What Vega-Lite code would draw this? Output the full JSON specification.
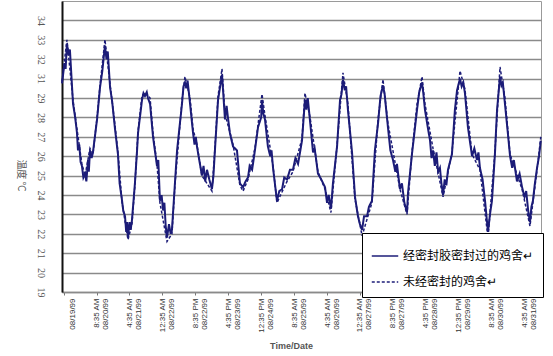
{
  "$schema": "https://vega.github.io/schema/vega-lite/v6.json",
  "width": 479,
  "height": 291,
  "autosize": "none",
  "padding": {"left": 62, "top": 1, "right": 12, "bottom": 64},
  "background": "white",
  "config": {"view": {"stroke": "#9a9a9a", "strokeWidth": 1}},
  "datasets": {
    "sealed": [
      {"t":-1.0,"T":30.5},{"t":0.5,"T":31.8},{"t":1.2,"T":31.5},{"t":2.0,"T":32.8},{"t":3.0,"T":32.2},{"t":3.8,"T":32.5},{"t":5.7,"T":28.7},{"t":7.0,"T":28.0},{"t":8.1,"T":27.2},{"t":8.7,"T":26.3},{"t":9.5,"T":26.6},{"t":10.3,"T":25.7},{"t":11.1,"T":25.5},{"t":12.0,"T":24.9},{"t":13.0,"T":25.1},{"t":13.8,"T":24.7},{"t":14.8,"T":25.8},{"t":15.3,"T":25.2},{"t":16.0,"T":26.3},{"t":17.0,"T":25.9},{"t":17.8,"T":26.2},{"t":20.3,"T":27.9},{"t":22.1,"T":30.1},{"t":23.5,"T":31.4},{"t":25.1,"T":32.7},{"t":26.0,"T":32.0},{"t":26.8,"T":32.4},{"t":28.2,"T":30.1},{"t":29.5,"T":28.8},{"t":31.2,"T":27.4},{"t":33.0,"T":26.1},{"t":34.0,"T":24.6},{"t":35.5,"T":23.7},{"t":36.2,"T":23.2},{"t":37.3,"T":22.9},{"t":38.0,"T":22.1},{"t":38.5,"T":22.6},{"t":39.1,"T":21.8},{"t":40.0,"T":22.6},{"t":40.7,"T":22.2},{"t":41.5,"T":22.7},{"t":43.3,"T":24.6},{"t":44.6,"T":26.3},{"t":45.2,"T":27.2},{"t":47.6,"T":28.9},{"t":48.5,"T":29.5},{"t":49.4,"T":29.2},{"t":50.5,"T":29.6},{"t":51.2,"T":29.0},{"t":52.5,"T":28.7},{"t":54.3,"T":27.0},{"t":56.7,"T":25.5},{"t":57.5,"T":25.8},{"t":58.5,"T":23.7},{"t":59.5,"T":24.0},{"t":60.4,"T":23.2},{"t":61.2,"T":23.6},{"t":62.0,"T":22.4},{"t":62.8,"T":21.8},{"t":64.0,"T":22.5},{"t":65.0,"T":22.0},{"t":65.8,"T":22.2},{"t":67.6,"T":24.6},{"t":68.9,"T":26.3},{"t":71.9,"T":28.7},{"t":72.8,"T":30.2},{"t":73.7,"T":30.6},{"t":74.5,"T":30.0},{"t":75.3,"T":30.8},{"t":76.8,"T":28.7},{"t":78.6,"T":27.2},{"t":79.5,"T":26.6},{"t":80.3,"T":27.0},{"t":81.0,"T":26.5},{"t":84.0,"T":25.0},{"t":85.0,"T":25.5},{"t":86.0,"T":24.7},{"t":87.1,"T":25.3},{"t":88.5,"T":24.8},{"t":90.1,"T":24.3},{"t":91.0,"T":25.0},{"t":91.9,"T":26.3},{"t":93.8,"T":28.9},{"t":96.2,"T":31.2},{"t":97.0,"T":29.4},{"t":98.0,"T":27.9},{"t":99.0,"T":28.6},{"t":99.8,"T":28.0},{"t":101.0,"T":27.2},{"t":102.9,"T":26.5},{"t":105.3,"T":26.3},{"t":107.1,"T":24.6},{"t":109.0,"T":24.4},{"t":110.5,"T":24.7},{"t":112.0,"T":24.9},{"t":113.0,"T":25.5},{"t":114.5,"T":25.3},{"t":116.2,"T":26.3},{"t":118.1,"T":27.5},{"t":120.0,"T":28.0},{"t":120.5,"T":28.9},{"t":121.3,"T":28.2},{"t":122.3,"T":27.9},{"t":124.1,"T":26.5},{"t":125.5,"T":26.0},{"t":126.3,"T":26.3},{"t":127.2,"T":25.4},{"t":129.6,"T":23.7},{"t":131.0,"T":24.2},{"t":132.7,"T":24.3},{"t":134.0,"T":24.9},{"t":135.7,"T":24.8},{"t":137.5,"T":25.3},{"t":139.3,"T":25.3},{"t":140.8,"T":25.9},{"t":142.4,"T":25.6},{"t":144.8,"T":26.8},{"t":146.6,"T":28.9},{"t":147.5,"T":28.4},{"t":148.3,"T":29.0},{"t":149.7,"T":27.8},{"t":151.5,"T":26.2},{"t":152.5,"T":26.4},{"t":154.5,"T":25.1},{"t":156.5,"T":24.8},{"t":158.8,"T":24.4},{"t":160.0,"T":23.6},{"t":161.0,"T":24.0},{"t":162.4,"T":23.3},{"t":163.6,"T":24.6},{"t":166.1,"T":26.5},{"t":167.9,"T":28.9},{"t":168.8,"T":29.4},{"t":169.7,"T":30.9},{"t":170.8,"T":29.8},{"t":171.6,"T":30.2},{"t":172.7,"T":28.4},{"t":175.2,"T":26.2},{"t":177.0,"T":23.9},{"t":178.8,"T":22.9},{"t":180.0,"T":22.5},{"t":181.3,"T":22.2},{"t":182.5,"T":22.9},{"t":184.3,"T":22.9},{"t":185.5,"T":23.4},{"t":187.3,"T":23.7},{"t":189.1,"T":26.3},{"t":191.0,"T":27.7},{"t":192.5,"T":29.2},{"t":194.0,"T":30.3},{"t":195.0,"T":29.4},{"t":197.0,"T":27.5},{"t":198.5,"T":26.3},{"t":200.1,"T":25.8},{"t":201.5,"T":25.2},{"t":202.5,"T":25.6},{"t":204.3,"T":24.3},{"t":205.5,"T":24.6},{"t":207.0,"T":23.6},{"t":208.6,"T":23.1},{"t":209.2,"T":24.1},{"t":211.6,"T":26.1},{"t":214.7,"T":28.4},{"t":216.0,"T":29.6},{"t":217.7,"T":30.6},{"t":218.5,"T":29.5},{"t":219.5,"T":28.4},{"t":221.0,"T":27.6},{"t":222.6,"T":26.8},{"t":223.5,"T":25.9},{"t":224.4,"T":26.3},{"t":225.5,"T":25.5},{"t":226.5,"T":26.2},{"t":227.5,"T":25.2},{"t":228.6,"T":25.4},{"t":229.5,"T":24.6},{"t":230.5,"T":24.0},{"t":231.5,"T":24.8},{"t":232.5,"T":24.5},{"t":233.5,"T":25.3},{"t":235.9,"T":26.1},{"t":237.7,"T":28.4},{"t":239.0,"T":29.8},{"t":240.8,"T":31.0},{"t":241.8,"T":30.2},{"t":242.8,"T":30.6},{"t":243.8,"T":29.5},{"t":245.6,"T":27.5},{"t":248.1,"T":26.0},{"t":249.5,"T":26.4},{"t":251.1,"T":25.8},{"t":252.0,"T":26.2},{"t":252.9,"T":25.4},{"t":254.5,"T":24.8},{"t":256.0,"T":23.7},{"t":257.0,"T":22.8},{"t":257.8,"T":22.1},{"t":259.0,"T":23.0},{"t":260.2,"T":23.7},{"t":262.0,"T":26.1},{"t":263.3,"T":28.4},{"t":265.1,"T":31.1},{"t":266.0,"T":30.3},{"t":266.8,"T":30.6},{"t":268.1,"T":28.7},{"t":269.5,"T":27.5},{"t":271.2,"T":26.0},{"t":272.5,"T":25.4},{"t":273.5,"T":25.8},{"t":275.4,"T":24.7},{"t":277.0,"T":25.1},{"t":278.5,"T":24.4},{"t":280.0,"T":23.9},{"t":281.0,"T":24.2},{"t":282.2,"T":23.2},{"t":283.3,"T":22.6},{"t":284.2,"T":23.4},{"t":285.1,"T":23.7},{"t":286.3,"T":24.6},{"t":287.6,"T":25.4},{"t":288.8,"T":26.0},{"t":289.9,"T":26.8}
    ],
    "unsealed": [
      {"t":-1.0,"T":30.7},{"t":2.0,"T":33.0},{"t":5.7,"T":28.9},{"t":8.1,"T":27.4},{"t":11.1,"T":25.6},{"t":13.0,"T":25.0},{"t":16.0,"T":26.4},{"t":17.8,"T":26.1},{"t":20.3,"T":28.0},{"t":22.1,"T":30.3},{"t":25.1,"T":33.0},{"t":28.2,"T":30.4},{"t":31.2,"T":27.6},{"t":33.0,"T":26.2},{"t":35.5,"T":23.6},{"t":39.1,"T":21.7},{"t":41.5,"T":22.5},{"t":43.3,"T":24.5},{"t":45.2,"T":27.3},{"t":47.6,"T":29.2},{"t":49.4,"T":29.6},{"t":52.5,"T":29.0},{"t":54.3,"T":27.2},{"t":56.7,"T":25.6},{"t":58.5,"T":23.6},{"t":62.8,"T":21.6},{"t":65.8,"T":22.0},{"t":67.6,"T":24.5},{"t":71.9,"T":28.9},{"t":73.7,"T":31.1},{"t":76.8,"T":29.0},{"t":78.6,"T":27.4},{"t":81.0,"T":26.6},{"t":84.0,"T":25.0},{"t":90.1,"T":24.2},{"t":91.9,"T":26.4},{"t":93.8,"T":29.2},{"t":96.2,"T":31.5},{"t":98.0,"T":28.2},{"t":102.9,"T":26.6},{"t":107.1,"T":24.5},{"t":109.0,"T":24.2},{"t":112.0,"T":24.8},{"t":116.2,"T":26.4},{"t":120.5,"T":29.4},{"t":122.3,"T":28.1},{"t":127.2,"T":25.5},{"t":129.6,"T":23.6},{"t":135.7,"T":24.7},{"t":139.3,"T":25.2},{"t":144.8,"T":26.9},{"t":146.6,"T":29.5},{"t":149.7,"T":28.0},{"t":154.5,"T":25.2},{"t":158.8,"T":24.3},{"t":162.4,"T":23.1},{"t":166.1,"T":26.6},{"t":169.7,"T":31.3},{"t":172.7,"T":28.7},{"t":177.0,"T":23.8},{"t":181.3,"T":21.9},{"t":187.3,"T":23.6},{"t":191.0,"T":27.9},{"t":194.0,"T":30.9},{"t":197.0,"T":27.7},{"t":204.3,"T":24.3},{"t":208.6,"T":23.0},{"t":211.6,"T":26.2},{"t":214.7,"T":28.7},{"t":217.7,"T":31.1},{"t":219.5,"T":28.7},{"t":224.4,"T":26.4},{"t":230.5,"T":23.9},{"t":235.9,"T":26.2},{"t":240.8,"T":31.4},{"t":243.8,"T":29.9},{"t":248.1,"T":26.1},{"t":252.9,"T":25.3},{"t":257.8,"T":21.8},{"t":262.0,"T":26.2},{"t":265.1,"T":31.6},{"t":268.1,"T":29.0},{"t":271.2,"T":26.1},{"t":278.5,"T":24.3},{"t":283.3,"T":22.4},{"t":287.6,"T":25.3},{"t":289.9,"T":27.0}
    ]
  },
  "encoding": {
    "x": {
      "field": "t",
      "type": "quantitative",
      "scale": {"domain": [-1, 290], "nice": false, "zero": false},
      "axis": {
        "values": [0, 20, 40, 60, 80, 100, 120, 140, 160, 180, 200, 220, 240, 260, 280],
        "labelExpr": "[[' ', '08/19/99'], ['8:35 AM', '08/20/99'], ['4:35 AM', '08/21/99'], ['12:35 AM', '08/22/99'], ['8:35 PM', '08/22/99'], ['4:35 PM', '08/23/99'], ['12:35 PM', '08/24/99'], ['8:35 AM', '08/25/99'], ['4:35 AM', '08/26/99'], ['12:35 AM', '08/27/99'], ['8:35 PM', '08/27/99'], ['4:35 PM', '08/28/99'], ['12:35 PM', '08/29/99'], ['8:35 AM', '08/30/99'], ['4:35 AM', '08/31/99']][round(datum.value / 20)]",
        "labelAngle": 270,
        "labelFont": "Liberation Sans",
        "labelFontSize": 8,
        "labelColor": "#333333",
        "labelLineHeight": 9,
        "labelPadding": 3,
        "labelOverlap": false,
        "labelBound": false,
        "labelFlush": false,
        "tickSize": 3,
        "tickColor": "#777777",
        "domainColor": "#8a8a8a",
        "domainWidth": 1.5,
        "grid": false,
        "title": "Time/Date",
        "titleFont": "Liberation Sans",
        "titleFontSize": 9,
        "titleFontWeight": "bold",
        "titleColor": "#555555",
        "titleX": 229,
        "titleY": 56,
        "titleBaseline": "alphabetic"
      }
    },
    "y": {
      "field": "T",
      "type": "quantitative",
      "scale": {"domain": [19, 29, 31, 35], "range": [291, 97, 77.6, 0], "nice": false, "zero": false},
      "axis": {
        "values": [19, 20, 21, 22, 23, 24, 25, 26, 27, 28, 29, 31, 32, 33, 34],
        "labelAngle": 90,
        "labelFont": "Liberation Serif",
        "labelFontSize": 10,
        "labelColor": "#555555",
        "labelPadding": 17,
        "ticks": false,
        "domainColor": "#111111",
        "domainWidth": 2,
        "grid": true,
        "gridColor": "#8a8a8a",
        "gridWidth": 1.5,
        "title": "温度 ℃",
        "titleFont": "Noto Sans CJK SC",
        "titleFontSize": 10,
        "titleFontWeight": "normal",
        "titleColor": "#555555",
        "titleAngle": 90,
        "titleX": -42,
        "titleY": 174,
        "titleAlign": "center",
        "titleBaseline": "middle"
      }
    }
  },
  "layer": [
    {
      "data": {"name": "sealed"},
      "mark": {"type": "line", "color": "#1c1c78", "strokeWidth": 2},
      "encoding": {
        "strokeDash": {
          "datum": "经密封胶密封过的鸡舍↵",
          "type": "nominal",
          "scale": {"domain": ["经密封胶密封过的鸡舍↵", "未经密封的鸡舍↵"], "range": [[1, 0], [3, 2]]},
          "legend": {
            "orient": "none",
            "legendX": 300,
            "legendY": 232,
            "title": null,
            "fillColor": "white",
            "strokeColor": "black",
            "padding": 9,
            "symbolType": "stroke",
            "symbolSize": 700,
            "symbolStrokeWidth": 1.3,
            "symbolStrokeColor": "black",
            "labelFont": "Noto Sans CJK SC",
            "labelFontSize": 12,
            "labelColor": "black",
            "labelLimit": 300,
            "rowPadding": 6,
            "labelOffset": 4
          }
        }
      }
    },
    {
      "data": {"name": "unsealed"},
      "mark": {"type": "line", "color": "#1c1c78", "strokeWidth": 1.5},
      "encoding": {
        "strokeDash": {"datum": "未经密封的鸡舍↵", "type": "nominal"}
      }
    }
  ]
}
